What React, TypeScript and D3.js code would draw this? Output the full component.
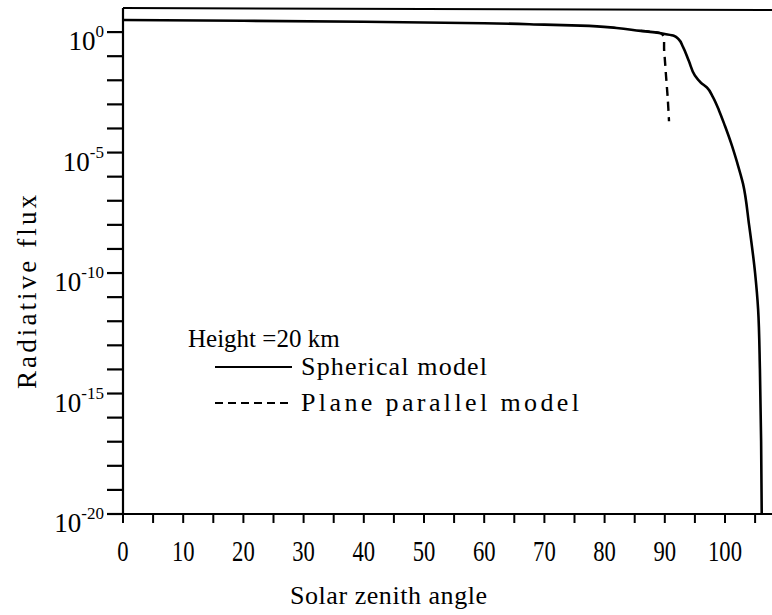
import React from "react";
import * as d3 from "d3";

const sphericalAngle = [0, 20, 40, 60, 70, 76, 82, 86, 88, 90, 91.5, 92.3, 93, 94, 95, 96, 97, 98, 99, 100, 101, 102, 103, 104, 105, 105.5, 105.8, 106.0, 106.1];
const sphericalLogFlux = [0.5, 0.47, 0.43, 0.37, 0.31, 0.27, 0.17, 0.05, 0.0, -0.08, -0.15, -0.3, -0.6, -1.2, -1.8, -2.1, -2.3, -2.7, -3.25, -3.9, -4.6, -5.4, -6.3, -8.0, -10.0, -11.5, -14, -17, -20];

const planeAngle = [86, 88, 89.6, 89.9, 90.2, 90.5, 90.7];
const planeLogFlux = [0.05, 0.0, -0.1, -0.8, -1.8, -2.8, -3.7];

const yTickExponents = [0, -5, -10, -15, -20];
const xTickLabels = [0, 10, 20, 30, 40, 50, 60, 70, 80, 90, 100];

const W = 772;
const H = 615;
const left = 123;
const right = 776;
const top = 8;
const bottom = 514;

export default function App() {
  const x = d3.scaleLinear().domain([0, 108.5]).range([left, left + 6.02 * 108.5]);
  const y = d3.scaleLog().domain([1e-20, 10]).range([bottom, top]);

  const sph = sphericalAngle.map((a, i) => [a, Math.pow(10, sphericalLogFlux[i])] as [number, number]);
  const pln = planeAngle.map((a, i) => [a, Math.pow(10, planeLogFlux[i])] as [number, number]);
  const line = d3
    .line<[number, number]>()
    .x((d) => x(d[0]))
    .y((d) => y(d[1]))
    .curve(d3.curveMonotoneY);
  const lineX = d3
    .line<[number, number]>()
    .x((d) => x(d[0]))
    .y((d) => y(d[1]))
    .curve(d3.curveCatmullRom);

  const decadeTicks = d3.range(1, -21, -1).map((e) => Math.pow(10, e)).filter((v) => v <= 1);
  const xMinor = d3.range(0, 106, 5);
  const font = "'Liberation Serif', 'DejaVu Serif', serif";

  return (
    <svg width={W} height={H} style={{ display: "block", position: "absolute", left: 0, top: 0, background: "#fff" }}>
      <rect x={0} y={0} width={W} height={H} fill="#fff" />
      {/* frame */}
      <line x1={left} y1={top} x2={right} y2={top + 2} stroke="#000" strokeWidth={2} />
      <line x1={left} y1={top} x2={left} y2={bottom} stroke="#000" strokeWidth={2.2} />
      <line x1={left} y1={bottom} x2={right} y2={bottom} stroke="#000" strokeWidth={2.2} />
      {/* y ticks */}
      {decadeTicks.map((v, i) => (
        <line key={"yt" + i} x1={left - 16} x2={left} y1={y(v)} y2={y(v)} stroke="#000" strokeWidth={2.2} />
      ))}
      {yTickExponents.map((e) => (
        <text key={"yl" + e} x={left - 19} y={y(Math.pow(10, e)) + 18} textAnchor="end" fontFamily={font} fontSize={27} fill="#000">
          10
          <tspan dy={-13} fontSize={17}>{e === 0 ? "0" : "-" + Math.abs(e)}</tspan>
        </text>
      ))}
      {/* x ticks */}
      {xMinor.map((v) => (
        <line key={"xt" + v} x1={x(v)} x2={x(v)} y1={bottom} y2={bottom + 9} stroke="#000" strokeWidth={2} />
      ))}
      {xTickLabels.map((v) => (
        <text key={"xl" + v} x={x(v)} y={bottom + 47} textAnchor="middle" fontFamily={font} fontSize={29} fill="#000" transform={`translate(${x(v)},0) scale(0.78,1) translate(${-x(v)},0)`}>
          {v}
        </text>
      ))}
      {/* axis titles */}
      <text x={290} y={H - 11} fontFamily={font} fontSize={26} textLength={197} lengthAdjust="spacing" fill="#000">
        Solar  zenith  angle
      </text>
      <text transform={`translate(36,292) rotate(-90)`} x={-97} y={0} fontFamily={font} fontSize={27} textLength={194} lengthAdjust="spacing" fill="#000">
        Radiative flux
      </text>
      {/* data */}
      <path d={line(sph) || ""} fill="none" stroke="#000" strokeWidth={2.6} />
      <path d={lineX(pln) || ""} fill="none" stroke="#000" strokeWidth={2.4} strokeDasharray="9,6" />
      {/* legend */}
      <text x={188} y={347} fontFamily={font} fontSize={25} fill="#000">
        Height =20 km
      </text>
      <line x1={215} x2={292} y1={367} y2={367} stroke="#000" strokeWidth={2} />
      <text x={301} y={375} fontFamily={font} fontSize={26} textLength={186} lengthAdjust="spacing" fill="#000">
        Spherical  model
      </text>
      <line x1={215} x2={292} y1={403} y2={403} stroke="#000" strokeWidth={2} strokeDasharray="8,5" />
      <text x={301} y={411} fontFamily={font} fontSize={26} textLength={278} lengthAdjust="spacing" fill="#000">
        Plane parallel  model
      </text>
    </svg>
  );
}
